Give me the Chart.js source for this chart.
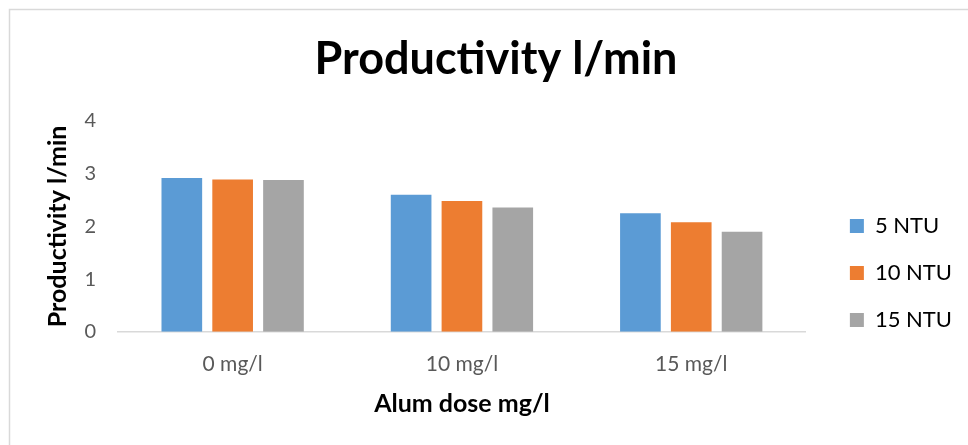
<!DOCTYPE html>
<html>
<head>
<meta charset="utf-8">
<script src="https://cdn.jsdelivr.net/npm/chart.js@4/dist/chart.umd.min.js"></script>
<style>
  html, body { margin: 0; padding: 0; background: #fff; }
  #chart { display: block; }
</style>
</head>
<body>
<canvas id="chart" width="968" height="445"></canvas>
<script>
const doses = ['0 mg/l', '10 mg/l', '15 mg/l'];
const seriesNames = ['5 NTU', '10 NTU', '15 NTU'];
const ntu5 = [2.92, 2.6, 2.25];
const ntu10 = [2.89, 2.48, 2.08];
const ntu15 = [2.88, 2.36, 1.9];
const yTicks = [0, 1, 2, 3, 4];

const colors = ['#5B9BD5', '#ED7D31', '#A5A5A5'];
const fontFamily = 'Lato, "Open Sans", sans-serif';

// Excel-style chart frame
const framePlugin = {
  id: 'frame',
  beforeDraw: (chart) => {
    const ctx = chart.ctx;
    ctx.save();
    ctx.fillStyle = '#ffffff';
    ctx.fillRect(0, 0, chart.width, chart.height);
    ctx.strokeStyle = '#d9d9d9';
    ctx.lineWidth = 1.5;
    ctx.strokeRect(9.5, 9.5, 990, 460);
    ctx.restore();
  }
};

const makeDataset = (label, data, color) => ({
  label: label,
  data: data,
  backgroundColor: color,
  borderWidth: 0,
  categoryPercentage: 0.665,
  barPercentage: 0.8
});

const config = {
  type: 'bar',
  data: {
    labels: doses,
    datasets: [
      makeDataset(seriesNames[0], ntu5, colors[0]),
      makeDataset(seriesNames[1], ntu10, colors[1]),
      makeDataset(seriesNames[2], ntu15, colors[2])
    ]
  },
  options: {
    responsive: false,
    animation: false,
    devicePixelRatio: 1,
    layout: { padding: { left: 30, right: 6, top: 0, bottom: 26 } },
    plugins: {
      title: {
        display: true,
        text: 'Productivity l/min',
        color: '#000',
        font: { family: fontFamily, size: 45, weight: 'bold' },
        padding: { top: 32, bottom: 35 }
      },
      legend: {
        position: 'right',
        align: 'start',
        title: {
          display: true,
          text: ' ',
          font: { size: 10 },
          padding: { top: 178, bottom: 0 }
        },
        labels: {
          boxWidth: 14,
          boxHeight: 14,
          padding: 25,
          color: '#000',
          font: { family: fontFamily, size: 22 }
        }
      },
      tooltip: { enabled: false }
    },
    scales: {
      x: {
        grid: { display: false, drawTicks: false },
        border: { display: true, color: '#d9d9d9', width: 1.5 },
        ticks: {
          color: '#595959',
          padding: 20,
          font: { family: fontFamily, size: 21 }
        },
        title: {
          display: true,
          text: 'Alum dose mg/l',
          color: '#000',
          font: { family: fontFamily, size: 25, weight: 'bold' },
          padding: { top: -8, bottom: 0 }
        }
      },
      y: {
        min: 0,
        max: 4,
        afterBuildTicks: (scale) => {
          scale.ticks = yTicks.map(v => ({ value: v }));
        },
        afterFit: (scale) => { scale.width = 88; },
        grid: { display: false, drawTicks: false },
        border: { display: false },
        ticks: {
          color: '#595959',
          padding: 22,
          font: { family: fontFamily, size: 20 }
        },
        title: {
          display: true,
          text: 'Productivity l/min',
          color: '#000',
          font: { family: fontFamily, size: 25, weight: 'bold' },
          padding: { top: 13, bottom: 0 }
        }
      },
      gap: {
        type: 'linear',
        position: 'right',
        display: true,
        grid: { display: false, drawTicks: false },
        border: { display: false },
        ticks: { display: false },
        afterFit: (scale) => { scale.width = 19; }
      }
    }
  },
  plugins: [framePlugin]
};

const chart = new Chart(document.getElementById('chart'), config);
</script>
</body>
</html>
